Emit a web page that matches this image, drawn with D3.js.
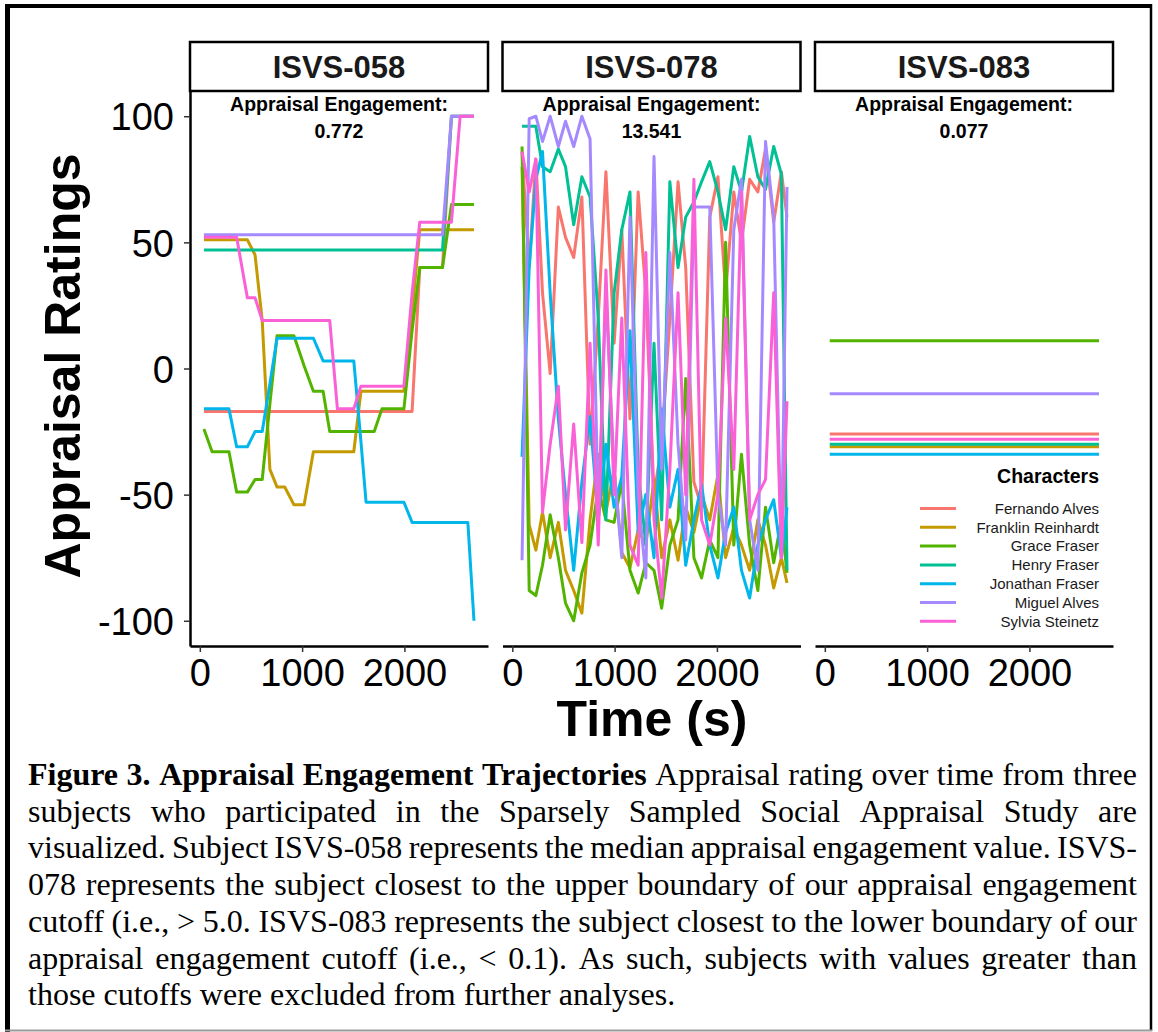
<!DOCTYPE html>
<html><head><meta charset="utf-8">
<script src="https://cdn.jsdelivr.net/npm/d3@7/dist/d3.min.js"></script>
<style>body{margin:0;background:#fff}</style>
</head><body>
<svg id="chart" width="1158" height="1032"></svg>
<script>
// ---------------- data ----------------
const characters = ["Fernando Alves","Franklin Reinhardt","Grace Fraser","Henry Fraser","Jonathan Fraser","Miguel Alves","Sylvia Steinetz"];
const colors = ["#F8766D","#C49A00","#53B400","#00C094","#00B6EB","#A58AFF","#FB61D7"];
const subjects = ["ISVS-058","ISVS-078","ISVS-083"];
const engagement = ["0.772","13.541","0.077"];
const yTicks = [-100,-50,0,50,100];
const xTicks = [0,1000,2000];

const times058 = [40,120,200,285,360,465,540,610,685,755,830,920,1020,1110,1205,1270,1345,1420,1505,1575,1625,1705,1780,1860,1930,1995,2075,2150,2230,2300,2372,2460,2545,2620,2680];
const values058 = [
  [-17,-17,-17,-17,-17,-17,-17,-17,-17,-17,-17,-17,-17,-17,-17,-17,-17,-17,-17,-17,-17,-17,-17,-17,-17,-17,-17,40,40,40,40,100,100,100,100],
  [51,51,51,51,51,51,45,19,-40,-47,-47,-54,-54,-33,-33,-33,-33,-33,-33,-9,-9,-9,-9,-9,-9,-9,22,55,55,55,55,55,55,55,55],
  [-24,-33,-33,-33,-49,-49,-44,-44,-14,13,13,13,1,-9,-9,-25,-25,-25,-25,-25,-25,-25,-16,-16,-16,-16,15,40,40,40,40,65,65,65,65],
  [47,47,47,47,47,47,47,47,47,47,47,47,47,47,47,47,47,47,47,47,47,47,47,47,47,47,47,47,47,47,47,100,100,100,100],
  [-16,-16,-16,-16,-31,-31,-25,-25,-6,12,12,12,12,12,3,3,3,3,3,-29,-53,-53,-53,-53,-53,-53,-61,-61,-61,-61,-61,-61,-61,-61,-100],
  [53,53,53,53,53,53,53,53,53,53,53,53,53,53,53,53,53,53,53,53,53,53,53,53,53,53,53,53,53,53,53,100,100,100,100],
  [52,52,52,52,52,28,28,19,19,19,19,19,19,19,19,19,-16,-16,-16,-7,-7,-7,-7,-7,-7,-7,30,58,58,58,58,58,100,100,100]
];

const times078 = [95,165,230,295,370,450,520,600,680,760,840,915,995,1070,1150,1230,1305,1385,1460,1540,1620,1695,1775,1850,1930,2010,2085,2165,2240,2320,2400,2475,2555,2630,2685];
const values078 = [
  [86,40,83,30,-2,64,52,44,68,-30,20,78,10,55,-20,70,30,-50,-30,20,74,40,-45,-55,60,76,30,70,50,75,70,87,58,78,60],
  [80,-62,-72,-57,-75,-61,-80,-88,-97,-60,-34,-57,-40,-73,-79,-64,-70,-44,-75,-60,-76,-55,-65,-50,-60,-42,-75,-63,-70,-80,-60,-70,-87,-75,-85],
  [88,-88,-90,-78,-58,-75,-93,-100,-81,-70,-47,-60,-61,-45,-80,-89,-77,-80,-95,-70,-60,-4,-75,-83,-68,-75,50,-70,-34,-70,-88,-55,-77,-60,-81],
  [96,96,96,80,78,87,80,57,76,68,20,-60,30,55,70,-40,-70,10,-60,74,40,60,66,74,82,70,55,80,70,92,76,71,88,77,-80],
  [-35,40,75,86,30,-20,-50,-80,-45,-19,-60,-30,-55,-43,15,-65,-50,-75,-16,-55,-40,-78,-60,-46,-70,-83,-65,-55,-80,-91,-70,-60,-52,-75,-55],
  [-76,99,100,90,100,88,98,88,100,91,-58,30,-40,-75,60,-50,-83,84,-40,46,-30,-68,64,64,64,-50,-70,55,75,-60,-80,90,60,-75,72],
  [86,70,83,-57,-30,-7,-64,-22,-69,10,-70,39,-50,20,-70,-78,46,-60,-91,-40,30,-50,75,-60,-70,-50,20,-40,70,-60,-50,-44,30,-75,-13]
];

const times083 = [48,2680];
const values083 = [
  [-26,-26],[-31,-31],[11,11],[-30,-30],[-34,-34],[-10,-10],[-28,-28]
];

const captionLines = [
  "Figure 3. Appraisal Engagement Trajectories Appraisal rating over time from three",
  "subjects who participated in the Sparsely Sampled Social Appraisal Study are",
  "visualized. Subject ISVS-058 represents the median appraisal engagement value. ISVS-",
  "078 represents the subject closest to the upper boundary of our appraisal engagement",
  "cutoff (i.e., > 5.0. ISVS-083 represents the subject closest to the lower boundary of our",
  "appraisal engagement cutoff (i.e., < 0.1). As such, subjects with values greater than",
  "those cutoffs were excluded from further analyses."
];
const captionBoldWords = 5;

// ---------------- layout ----------------
const svg = d3.select("#chart");
const sans = "'Liberation Sans', Arial, Helvetica, sans-serif";
const serif = "'Liberation Serif', 'Times New Roman', serif";
const panelLeft = [190, 502.5, 815];
const panelW = 298, panelTop = 91, panelBottom = 646;
const stripTop = 42;

const y = d3.scaleLinear().domain([-110,110]).range([panelBottom, panelTop]);
const allTimes = [times058, times078, times083];
const allValues = [values058, values078, values083];

// outer frame
svg.append("line").attr("x1",7.5).attr("x2",7.5).attr("y1",4).attr("y2",1032).attr("stroke","#000").attr("stroke-width",5);
svg.append("line").attr("x1",5).attr("x2",1152).attr("y1",6).attr("y2",6).attr("stroke","#000").attr("stroke-width",4);
svg.append("line").attr("x1",1151).attr("x2",1151).attr("y1",4).attr("y2",1031).attr("stroke","#000").attr("stroke-width",2.5);
svg.append("line").attr("x1",5).attr("x2",1152).attr("y1",1030.5).attr("y2",1030.5).attr("stroke","#9a9a9a").attr("stroke-width",2);

subjects.forEach((subj, p) => {
  const x0 = panelLeft[p];
  const x = d3.scaleLinear().domain([-96, 2817]).range([x0, x0 + panelW]);
  const g = svg.append("g");

  // strip
  g.append("rect").attr("x", x0).attr("y", stripTop).attr("width", panelW).attr("height", panelTop - stripTop)
    .attr("fill","#fff").attr("stroke","#000").attr("stroke-width",2.5);
  g.append("text").attr("x", x0 + panelW/2).attr("y", 78).attr("text-anchor","middle")
    .attr("font-family", sans).attr("font-weight","bold").attr("font-size",31).attr("fill","#1a1a1a").text(subj);

  // lines
  const line = d3.line().x((d,i) => x(allTimes[p][i])).y(d => y(d));
  allValues[p].forEach((vals, c) => {
    g.append("path").datum(vals).attr("d", line).attr("fill","none")
      .attr("stroke", colors[c]).attr("stroke-width",3).attr("stroke-linejoin","round");
  });

  // annotation
  g.append("text").attr("x", x0 + panelW/2).attr("y", 111).attr("text-anchor","middle")
    .attr("font-family", sans).attr("font-weight","bold").attr("font-size",19.5).text("Appraisal Engagement:");
  g.append("text").attr("x", x0 + panelW/2).attr("y", 138).attr("text-anchor","middle")
    .attr("font-family", sans).attr("font-weight","bold").attr("font-size",19.5).text(engagement[p]);

  // x axis
  const xa = g.append("g").attr("transform", `translate(0,${panelBottom})`)
    .call(d3.axisBottom(x).tickValues(xTicks).tickSize(6).tickSizeOuter(0).tickPadding(7).tickFormat(d => String(d)));
  xa.select(".domain").attr("stroke","#000").attr("stroke-width",2.5);
  xa.selectAll(".tick line").attr("stroke","#333").attr("stroke-width",1.5);
  xa.selectAll(".tick text").attr("font-family", sans).attr("font-size",38).attr("fill","#000").attr("dy","0.72em");

  if (p === 0) {
    const ya = g.append("g").attr("transform", `translate(${x0},0)`)
      .call(d3.axisLeft(y).tickValues(yTicks).tickSize(6).tickSizeOuter(0).tickPadding(10).tickFormat(d => String(d)));
    ya.select(".domain").attr("stroke","#000").attr("stroke-width",2.5);
    ya.selectAll(".tick line").attr("stroke","#333").attr("stroke-width",1.5);
    ya.selectAll(".tick text").attr("font-family", sans).attr("font-size",38).attr("fill","#000").attr("dy","0.36em");
  }
});

// axis titles
svg.append("text").attr("transform","translate(80,366) rotate(-90)").attr("text-anchor","middle")
  .attr("font-family", sans).attr("font-weight","bold").attr("font-size",50).text("Appraisal Ratings");
svg.append("text").attr("x",652).attr("y",736).attr("text-anchor","middle")
  .attr("font-family", sans).attr("font-weight","bold").attr("font-size",50).text("Time (s)");

// legend
const lg = svg.append("g");
lg.append("text").attr("x",1099).attr("y",483).attr("text-anchor","end")
  .attr("font-family", sans).attr("font-weight","bold").attr("font-size",19.5).text("Characters");
characters.forEach((name, i) => {
  const cy = 508.5 + i * 18.8;
  lg.append("line").attr("x1",920).attr("x2",956).attr("y1",cy).attr("y2",cy)
    .attr("stroke", colors[i]).attr("stroke-width",3);
  lg.append("text").attr("x",1099).attr("y",cy + 5.3).attr("text-anchor","end")
    .attr("font-family", sans).attr("font-size",15).attr("fill","#1a1a1a").text(name);
});

// caption (justified)
const capSize = 32;
const capG = svg.append("g").attr("font-family", serif).attr("font-size",capSize).attr("fill","#000");
const capLeft = 28, capRight = 1137, capBase = 785, capLH = 36.7;
let wordIndex = 0;
captionLines.forEach((ln, li) => {
  const words = ln.split(" ");
  const nodes = words.map(w => {
    const bold = wordIndex++ < captionBoldWords;
    return capG.append("text").attr("y", capBase + li * capLH).attr("font-weight", bold ? "bold" : "normal").text(w);
  });
  const widths = nodes.map(n => n.node().getComputedTextLength());
  const total = d3.sum(widths);
  const last = li === captionLines.length - 1;
  const gap = last ? capSize * 0.25 : (capRight - capLeft - total) / (words.length - 1);
  let cx = capLeft;
  nodes.forEach((n, i) => { n.attr("x", cx); cx += widths[i] + gap; });
});
</script>
</body></html>
